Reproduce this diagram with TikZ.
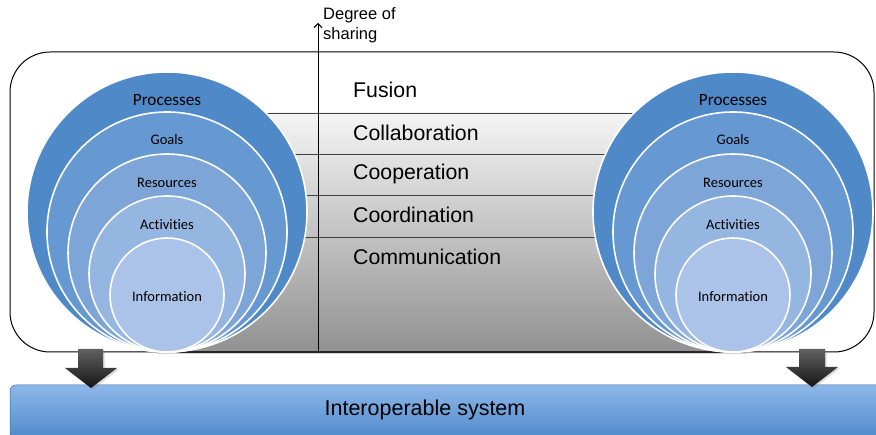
\documentclass[tikz,border=0pt]{standalone}
\usepackage{fontspec}
\setmainfont{Liberation Sans}
\newfontfamily\carlito[Ligatures=NoCommon]{Carlito}
\usetikzlibrary{arrows.meta,shadows}

\definecolor{proc}{RGB}{79,137,200}
\definecolor{goal}{RGB}{102,152,210}
\definecolor{reso}{RGB}{126,165,216}
\definecolor{acti}{RGB}{150,182,226}
\definecolor{info}{RGB}{172,195,233}
\definecolor{bartop}{RGB}{141,183,233}
\definecolor{barbot}{RGB}{72,132,199}

\tikzset{
  capa/.style={fill=#1, draw=white, line width=1.6pt},
  circtxt/.style={font=\carlito\fontsize{14.5}{17}\selectfont},
  proctxt/.style={font=\carlito\fontsize{17.2}{20}\selectfont},
  nivel/.style={anchor=west, inner sep=1pt, font=\fontsize{21.3}{25}\selectfont},
  banda/.style={draw=black!75, line width=0.8pt},
  flecha/.style={top color=black!62, bottom color=black!92, draw=none,
    drop shadow={opacity=0.3, shadow xshift=1.5pt, shadow yshift=-1.5pt}}
}

\begin{document}
\begin{tikzpicture}[x=1pt,y=-1pt]
\useasboundingbox (0,0) rectangle (876,435);

\coordinate (gl) at (155,113);
\coordinate (gr) at (745,352);
\coordinate (b1l) at (155,113);
\coordinate (b1r) at (745,113);
\coordinate (b2l) at (155,154);
\coordinate (b2r) at (745,154);
\coordinate (b3l) at (155,195);
\coordinate (b3r) at (745,195);
\coordinate (b4l) at (155,237);
\coordinate (b4r) at (745,237);
\coordinate (b5l) at (155,352);
\coordinate (b5r) at (745,352);

\coordinate (ejeini) at (318,352);
\coordinate (ejefin) at (318,23);

% marco
\draw[line width=1pt, rounded corners=40pt] (10,52) rectangle (874,352);

% zona gris de niveles
\path[top color=black!4, bottom color=black!43,
  drop shadow={opacity=0.35, shadow xshift=2pt, shadow yshift=-2.5pt}] (gl) rectangle (gr);
\draw[banda] (b1l) -- (b1r);
\draw[banda] (b2l) -- (b2r);
\draw[banda] (b3l) -- (b3r);
\draw[banda] (b4l) -- (b4r);
\draw[line width=1.3pt, black!85] (b5l) -- (b5r);

% eje
\draw[line width=1pt, -{Straight Barb[length=4pt,width=8pt]}] (ejeini) -- (ejefin);
\node (grado) at (322,25) [anchor=west, align=left, inner sep=1pt,
  font=\fontsize{16.5}{19.5}\selectfont] {Degree of\\sharing};

% circulos izquierda
\fill[capa=proc] (167,212) circle (140);
\fill[capa=goal] (167,232) circle (120);
\fill[capa=reso] (167,253) circle (99);
\fill[capa=acti] (167,274) circle (78);
\fill[capa=info] (167,295) circle (57);

% circulos derecha
\fill[capa=proc] (733,212) circle (140);
\fill[capa=goal] (733,232) circle (120);
\fill[capa=reso] (733,253) circle (99);
\fill[capa=acti] (733,274) circle (78);
\fill[capa=info] (733,295) circle (57);

% textos izquierda
\node (procL) at (167,100) [proctxt] {Processes};
\node (goalL) at (167,140) [circtxt] {Goals};
\node (resoL) at (167,183) [circtxt] {Resources};
\node (actiL) at (167,225) [circtxt] {Activities};
\node (infoL) at (167,297) [circtxt] {Information};

% textos derecha
\node (procR) at (733,100) [proctxt] {Processes};
\node (goalR) at (733,140) [circtxt] {Goals};
\node (resoR) at (733,183) [circtxt] {Resources};
\node (actiR) at (733,225) [circtxt] {Activities};
\node (infoR) at (733,297) [circtxt] {Information};

% niveles
\node (fus) at (352,90) [nivel] {Fusion};
\node (col) at (352,133) [nivel] {Collaboration};
\node (coop) at (352,174) [nivel] {Cooperation};
\node (coor) at (352,215) [nivel] {Coordination};
\node (com) at (352,257) [nivel] {Communication};

% barra inferior
\path[top color=bartop, bottom color=barbot, draw=barbot!80!black, line width=0.5pt,
  rounded corners=6pt] (10,385) rectangle (886,445);
\node (inter) at (425,410) [font=\fontsize{21.5}{25}\selectfont] {Interoperable system};

% flechas
\path[flecha] (78,349) -- (103,349) -- (103,368) -- (117,368) -- (91,388)
  -- (65,368) -- (78,368) -- cycle;
\path[flecha] (799,349) -- (825,349) -- (825,367) -- (838,367) -- (812,387)
  -- (786,367) -- (799,367) -- cycle;
\end{tikzpicture}
\end{document}
